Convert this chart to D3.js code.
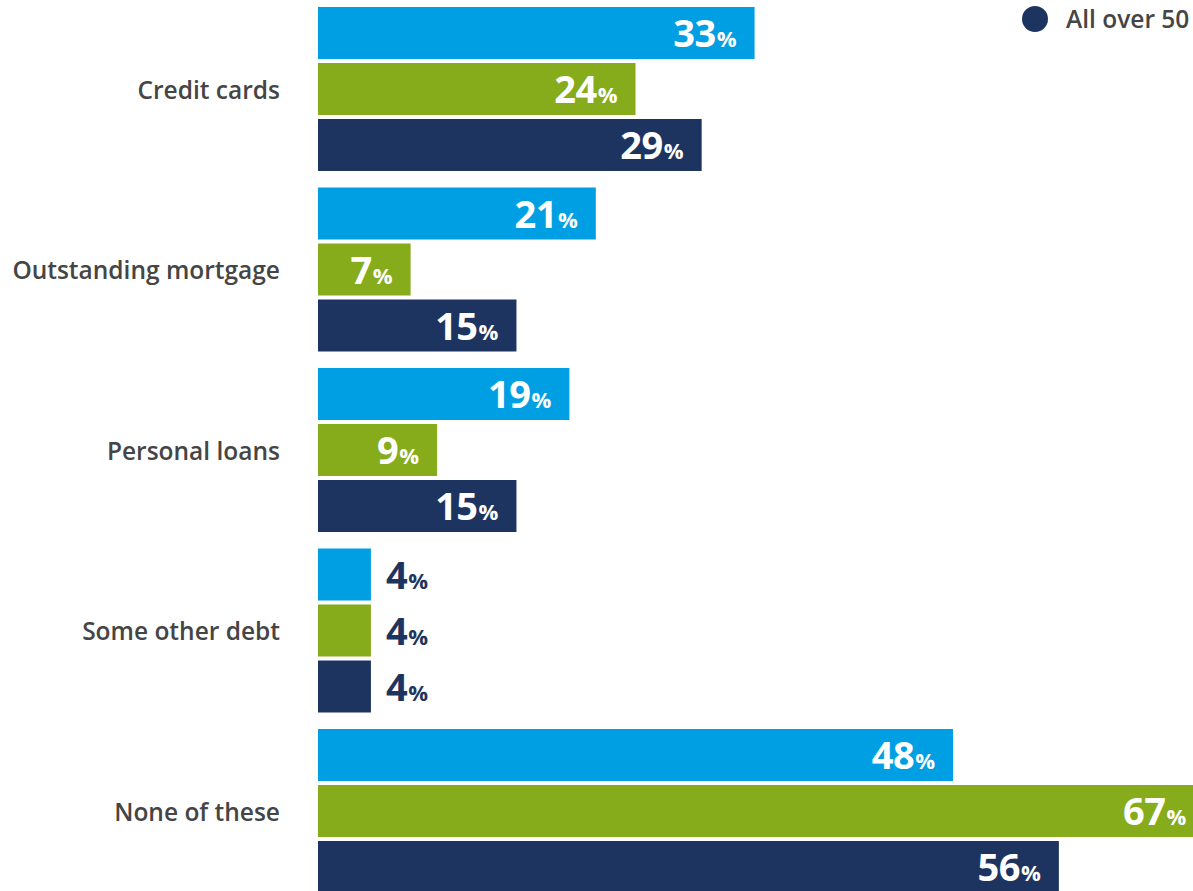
<!DOCTYPE html>
<html>
<head>
<meta charset="utf-8">
<script src="https://cdn.jsdelivr.net/npm/d3@7"></script>
<style>
  html, body { margin: 0; padding: 0; background: #fff; }
  svg { display: block; }
</style>
</head>
<body>
<svg id="chart" width="1193" height="891"></svg>
<script>
// Debt types held, three respondent groups per category (percent)
const categories = ["Credit cards", "Outstanding mortgage", "Personal loans", "Some other debt", "None of these"];
const seriesKeys = ["groupA", "groupB", "allOver50"];
const groupAValues = [33, 21, 19, 4, 48];
const groupBValues = [24, 7, 9, 4, 67];
const allOver50Values = [29, 15, 15, 4, 56];
const legendLabels = ["All over 50"];

const colors = { groupA: "#009FE3", groupB: "#86AC1C", allOver50: "#1E3460" };
const textGrey = "#454545";
const labelFont = "'Open Sans', sans-serif";
const valueFont = "'Open Sans', Lato, sans-serif";

const rows = categories.map((c, i) => ({
  category: c,
  groupA: groupAValues[i],
  groupB: groupBValues[i],
  allOver50: allOver50Values[i]
}));

const svg = d3.select("#chart");

const x0 = 318;
const pxPerPoint = 13.23;
const x = d3.scaleLinear().domain([0, 100]).range([x0, x0 + 100 * pxPerPoint]);

const y = d3.scaleBand()
  .domain(categories)
  .range([7 - 8.25, 7 - 8.25 + 5 * 180.5])
  .paddingInner(16.5 / 180.5)
  .paddingOuter(16.5 / 180.5 / 2);

const yInner = d3.scaleBand()
  .domain(seriesKeys)
  .range([0, y.bandwidth()])
  .paddingInner(4 / 56)
  .paddingOuter(0);

// Category labels
svg.append("g")
  .selectAll("text")
  .data(categories)
  .join("text")
  .attr("x", 280)
  .attr("y", d => y(d) + y.bandwidth() / 2 + 1)
  .attr("dy", "0.36em")
  .attr("text-anchor", "end")
  .attr("fill", textGrey)
  .attr("font-family", labelFont)
  .attr("font-weight", 600)
  .attr("font-size", 24.5)
  .text(d => d);

// Bars
const groups = svg.append("g")
  .selectAll("g")
  .data(rows)
  .join("g")
  .attr("transform", d => `translate(0,${y(d.category)})`);

const cells = groups.selectAll("g.cell")
  .data(d => seriesKeys.map(k => ({ key: k, value: d[k] })))
  .join("g")
  .attr("class", "cell");

cells.append("rect")
  .attr("x", x(0))
  .attr("y", d => yInner(d.key))
  .attr("width", d => x(d.value) - x(0))
  .attr("height", yInner.bandwidth())
  .attr("fill", d => colors[d.key]);

// Value labels: inside the bar end in white, or just past it when the bar is too short
cells.each(function(d) {
  const g = d3.select(this);
  const t = g.append("text")
    .attr("y", yInner(d.key) + yInner.bandwidth() / 2 + 14)
    .attr("font-family", valueFont)
    .attr("font-weight", 700);
  t.append("tspan").attr("font-size", 38).attr("letter-spacing", -0.5).text(d.value);
  t.append("tspan").attr("font-size", 22).attr("dx", 1).text("%");
  const w = t.node().getComputedTextLength();
  const barW = x(d.value) - x(0);
  if (w + 30 > barW) {
    t.attr("x", x(d.value) + 15).attr("text-anchor", "start").attr("fill", colors.allOver50);
  } else {
    t.attr("x", x(d.value) - 18).attr("text-anchor", "end").attr("fill", "#fff");
  }
});

// Legend
const legend = svg.append("g")
  .selectAll("g")
  .data(legendLabels)
  .join("g")
  .attr("transform", "translate(1035,19)");
legend.append("circle").attr("r", 13).attr("fill", colors.allOver50);
legend.append("text")
  .attr("x", 31)
  .attr("dy", "0.36em")
  .attr("fill", textGrey)
  .attr("font-family", labelFont)
  .attr("font-weight", 600)
  .attr("font-size", 24.5)
  .text(d => d);
</script>
</body>
</html>
